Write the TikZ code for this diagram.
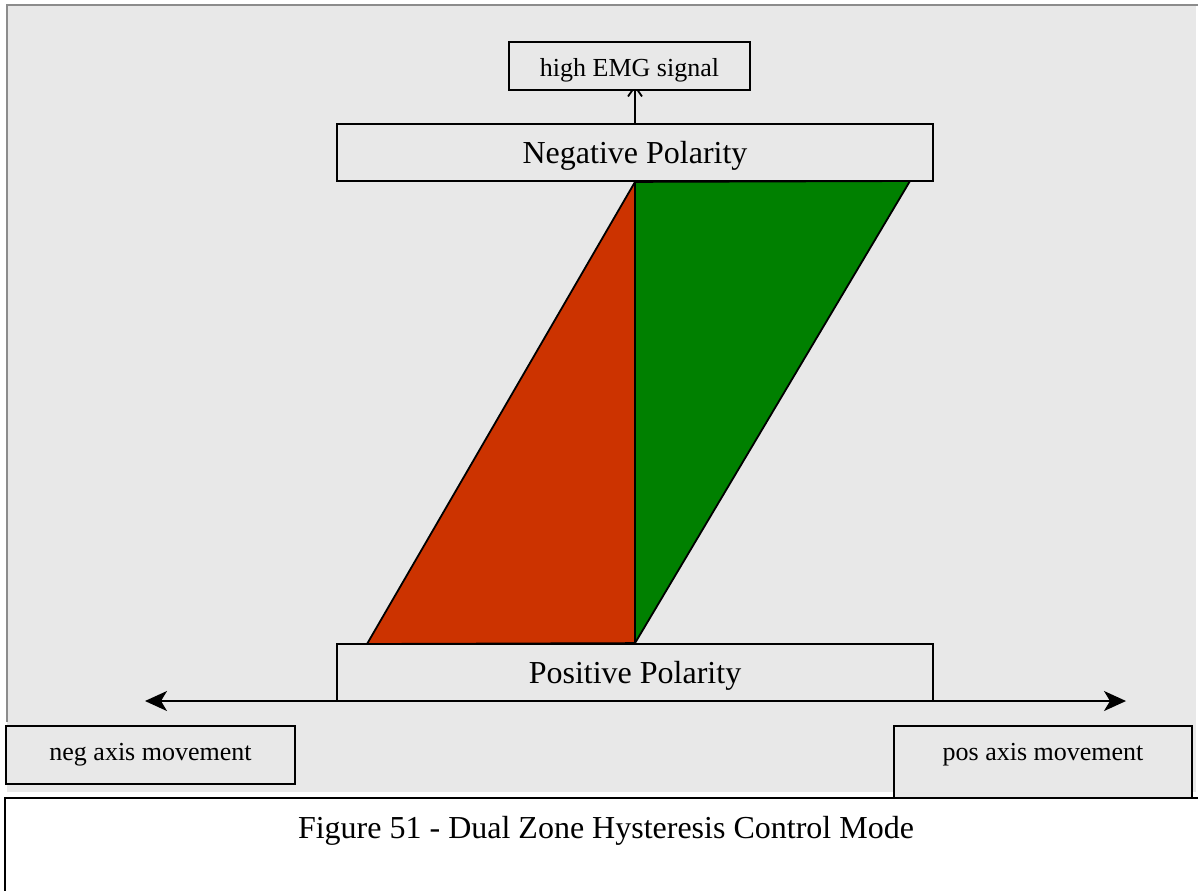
\documentclass[tikz,border=0pt]{standalone}
\usepackage{fontspec}
\setmainfont{Liberation Serif}
\usepackage{tikz}
\usetikzlibrary{arrows.meta, backgrounds}
\definecolor{panelgray}{RGB}{232,232,232}
\definecolor{rimgray}{RGB}{140,140,140}
\definecolor{negzone}{RGB}{204,51,0}
\definecolor{poszone}{RGB}{0,128,0}

\begin{document}
\begin{tikzpicture}[x=0.5pt, y=-0.5pt,
  box/.style={draw=black, line width=0.9pt, fill=panelgray, inner sep=0pt},
  polbox/.style={box, minimum width=298pt, minimum height=28.5pt, font=\fontsize{16}{19}\selectfont, text height=11.5pt, text depth=1pt},
  axisbox/.style={box, anchor=north, minimum width=144.5pt, font=\fontsize{13}{16}\selectfont, text height=9pt, text depth=3pt, inner ysep=8.5pt},
  zone/.style={draw=black, line width=0.9pt},
  uparrow/.style={line width=0.9pt, -{Straight Barb[length=5pt, width=7pt]}, shorten >=-3pt},
  axisarrow/.style={line width=0.9pt, {Stealth[length=11pt, width=10pt, inset=3pt]}-{Stealth[length=11pt, width=10pt, inset=3pt]}}]
  \useasboundingbox (0,0) rectangle (1198,890);
  \clip (0,0) rectangle (1198,890);
  \node[box, minimum width=120.5pt, minimum height=24pt, font=\fontsize{13}{16}\selectfont, text height=11.5pt, text depth=1pt] (highemg) at (629.5,66) {high EMG signal};
  \node[polbox] (negpol) at (635,152.5) {Negative Polarity};
  \node[polbox] (pospol) at (635,672.5) {Positive Polarity};
  \node[axisbox] (negaxis) at (150.5,725) {neg axis movement};
  \node[axisbox, minimum width=149pt, text depth=10pt] (posaxis) at (1043,725) {pos axis movement};
  \node[draw=black, line width=0.9pt, fill=white, anchor=north, minimum width=601pt, inner xsep=0pt, inner ysep=8.5pt, text height=12pt, text depth=30pt, font=\fontsize{16}{19}\selectfont] (caption) at (606,797) {Figure 51 - Dual Zone Hysteresis Control Mode};
  \coordinate (negend) at (145,701);
  \coordinate (posend) at (1126,701);
  \begin{scope}[on background layer]
    \fill[panelgray] (7,5) rectangle (1196,792);
    \draw[rimgray, line width=1pt] (7,722) -- (7,5) -- (1198,5);
    \filldraw[zone, fill=negzone] (negpol.south) -- (367,644) -- (pospol.north) -- cycle;
    \filldraw[zone, fill=poszone] (negpol.south) -- (910,181) -- (pospol.north) -- cycle;
    \draw[uparrow] (negpol.north) -- (negpol.north |- highemg.south);
    \draw[axisarrow] (negend) -- (posend);
  \end{scope}
\end{tikzpicture}
\end{document}
